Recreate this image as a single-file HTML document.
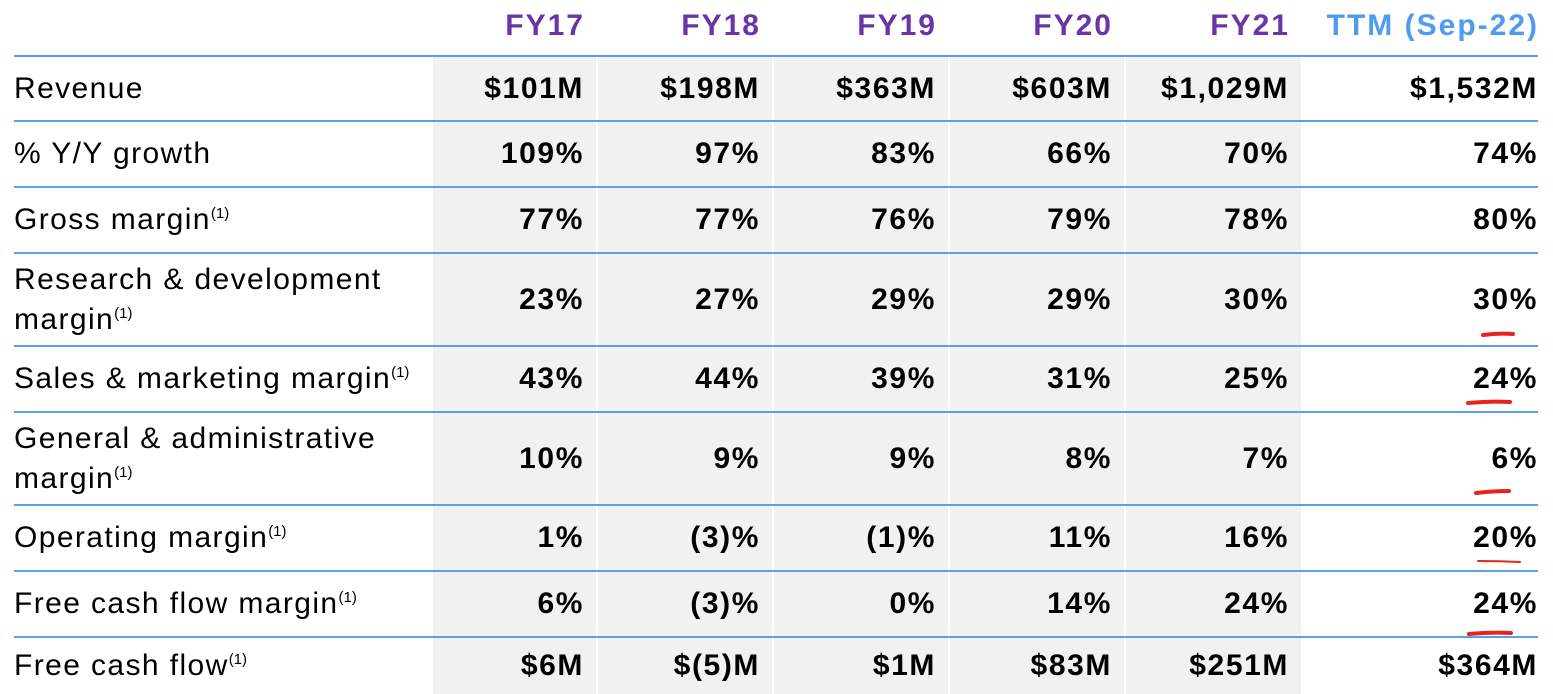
<!DOCTYPE html>
<html><head><meta charset="utf-8"><style>
body{margin:0;width:1553px;height:694px;background:#fff;position:relative;overflow:hidden;font-family:"Liberation Sans",sans-serif}
.g{position:absolute;top:56px;height:638px;background:#f1f1f1}
.l{position:absolute;left:14px;width:1524px;height:2px;background:#5b9ef0}
.h{position:absolute;top:8px;font-size:30px;letter-spacing:2px;font-weight:bold;color:#6a35a6;text-align:right;line-height:36px;white-space:nowrap}
.v{position:absolute;font-size:30px;letter-spacing:1.6px;font-weight:bold;color:#000;text-align:right;line-height:34px;white-space:nowrap}
.t{position:absolute;left:14px;font-size:30px;letter-spacing:1.4px;color:#000;line-height:38px;white-space:nowrap}
sup{font-size:15px;vertical-align:baseline;position:relative;top:-11px;line-height:0;letter-spacing:0}
</style></head><body>
<div class="g" style="left:433px;width:163px"></div>
<div class="g" style="left:598px;width:174px"></div>
<div class="g" style="left:774px;width:174px"></div>
<div class="g" style="left:950px;width:174px"></div>
<div class="g" style="left:1126px;width:175px"></div>
<div id="root"></div>
<svg style="position:absolute;left:0;top:0" width="1553" height="694">
<g stroke="#e8231d" stroke-linecap="round" fill="none">
<path d="M1483 335 Q1498 333 1513 334" stroke-width="4"/>
<path d="M1468 403 Q1490 401 1510 402" stroke-width="4"/>
<path d="M1476 493 Q1494 491 1509 491" stroke-width="4"/>
<path d="M1478 561 Q1499 561 1520 562" stroke-width="2"/>
<path d="M1469 634 Q1490 632 1511 633" stroke-width="4"/>
</g></svg>
<script>
const years=["FY17","FY18","FY19","FY20","FY21","TTM (Sep-22)"];
const rights=[583,759,935,1111,1288,1537];
const lines=[55,120,186,252,345,411,504,570,636];
const labels=["Revenue","% Y/Y growth","Gross margin<sup>(1)</sup>","Research &amp; development<br>margin<sup>(1)</sup>","Sales &amp; marketing margin<sup>(1)</sup>","General &amp; administrative<br>margin<sup>(1)</sup>","Operating margin<sup>(1)</sup>","Free cash flow margin<sup>(1)</sup>","Free cash flow<sup>(1)</sup>"];
const values=[
["$101M","$198M","$363M","$603M","$1,029M","$1,532M"],
["109%","97%","83%","66%","70%","74%"],
["77%","77%","76%","79%","78%","80%"],
["23%","27%","29%","29%","30%","30%"],
["43%","44%","39%","31%","25%","24%"],
["10%","9%","9%","8%","7%","6%"],
["1%","(3)%","(1)%","11%","16%","20%"],
["6%","(3)%","0%","14%","24%","24%"],
["$6M","$(5)M","$1M","$83M","$251M","$364M"]];
const root=document.getElementById('root');
years.forEach((y,i)=>{const d=document.createElement('div');d.className='h';


d.style.right=(1553-rights[i]-2)+'px';if(i==5)d.style.color='#4f9bf0';d.textContent=y;root.appendChild(d);});
lines.forEach(t=>{const d=document.createElement('div');d.className='l';


d.style.top=t+'px';root.appendChild(d);});
labels.forEach((lb,r)=>{const top=lines[r],bot=r+1<lines.length?lines[r+1]:694,mid=(top+bot)/2+1;
const two=lb.includes('<br>');
const d=document.createElement('div');d.className='t';


d.innerHTML=lb;d.style.top=(mid-(two?40:19))+'px';if(two)d.style.lineHeight='40px';root.appendChild(d);
values[r].forEach((v,c)=>{const e=document.createElement('div');e.className='v';


e.textContent=v;e.style.right=(1553-rights[c]-1)+'px';e.style.top=(mid-17)+'px';root.appendChild(e);});});
</script>
</body></html>
